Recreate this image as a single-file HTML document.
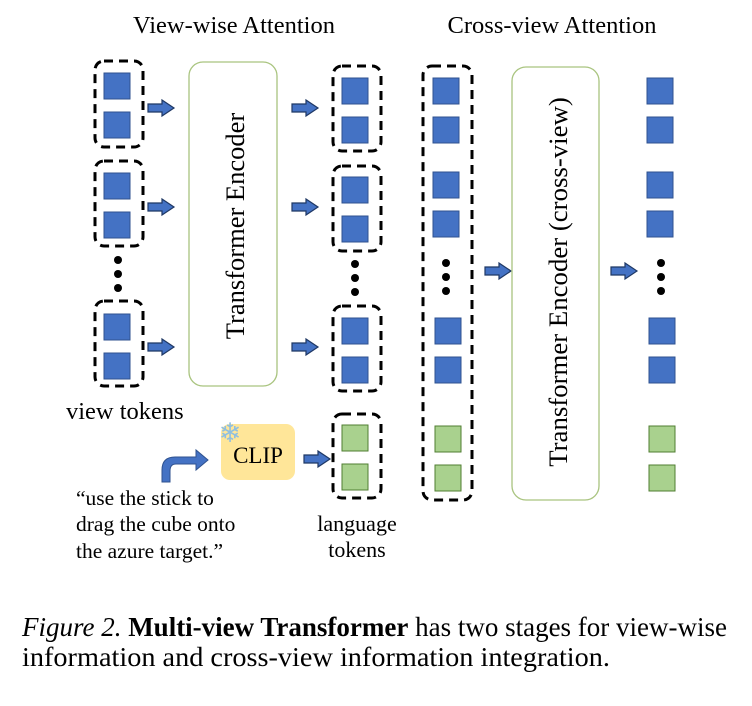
<!DOCTYPE html>
<html><head><style>
body{margin:0;background:#fff;}
svg text{font-family:"Liberation Serif",serif;fill:#000;}
</style></head><body>
<svg width="752" height="701" viewBox="0 0 752 701" xmlns="http://www.w3.org/2000/svg">
<defs>
<g id="arr"><path d="M0,-4 L14,-4 L14,-8 L26,0 L14,8 L14,4 L0,4 Z" fill="#4472c4" stroke="#1f3864" stroke-width="1.2"/></g>
<g id="bs"><rect width="26" height="26" fill="#4472c4" stroke="#2f528f" stroke-width="1"/></g>
<g id="gs"><rect width="26" height="26" fill="#a9d18e" stroke="#507e32" stroke-width="1"/></g>
</defs>
<text x="234" y="33" font-size="24.5" text-anchor="middle">View-wise Attention</text>
<text x="552" y="33" font-size="24.5" text-anchor="middle">Cross-view Attention</text>
<g fill="none" stroke="#000" stroke-width="3" stroke-dasharray="9,6">
<rect x="95" y="61" width="48" height="86" rx="9"/>
<rect x="95" y="161" width="48" height="85" rx="9"/>
<rect x="95" y="301" width="48" height="85" rx="9"/>
<rect x="333" y="66" width="48" height="85" rx="9"/>
<rect x="333" y="166" width="48" height="85" rx="9"/>
<rect x="333" y="306" width="48" height="85" rx="9"/>
<rect x="333" y="414" width="48" height="84" rx="9"/>
<rect x="423" y="66" width="49" height="434" rx="9"/>
</g>
<use href="#bs" x="104" y="73"/><use href="#bs" x="104" y="112"/>
<use href="#bs" x="104" y="173"/><use href="#bs" x="104" y="212"/>
<use href="#bs" x="104" y="314"/><use href="#bs" x="104" y="353"/>
<use href="#bs" x="342" y="78"/><use href="#bs" x="342" y="117"/>
<use href="#bs" x="342" y="177"/><use href="#bs" x="342" y="216"/>
<use href="#bs" x="342" y="318"/><use href="#bs" x="342" y="357"/>
<use href="#gs" x="342" y="425"/><use href="#gs" x="342" y="464"/>
<use href="#bs" x="433" y="78"/><use href="#bs" x="433" y="117"/>
<use href="#bs" x="433" y="172"/><use href="#bs" x="433" y="211"/>
<use href="#bs" x="435" y="318"/><use href="#bs" x="435" y="357"/>
<use href="#gs" x="435" y="426"/><use href="#gs" x="435" y="465"/>
<use href="#bs" x="647" y="78"/><use href="#bs" x="647" y="117"/>
<use href="#bs" x="647" y="172"/><use href="#bs" x="647" y="211"/>
<use href="#bs" x="649" y="318"/><use href="#bs" x="649" y="357"/>
<use href="#gs" x="649" y="426"/><use href="#gs" x="649" y="465"/>
<g fill="#000">
<circle cx="118" cy="260" r="4"/><circle cx="118" cy="274" r="4"/><circle cx="118" cy="288" r="4"/>
<circle cx="355" cy="264" r="4"/><circle cx="355" cy="278" r="4"/><circle cx="355" cy="292" r="4"/>
<circle cx="446" cy="263" r="4"/><circle cx="446" cy="277" r="4"/><circle cx="446" cy="291" r="4"/>
<circle cx="661" cy="263" r="4"/><circle cx="661" cy="277" r="4"/><circle cx="661" cy="291" r="4"/>
</g>
<use href="#arr" x="148" y="108"/><use href="#arr" x="148" y="207"/><use href="#arr" x="148" y="347"/>
<use href="#arr" x="292" y="108"/><use href="#arr" x="292" y="207"/><use href="#arr" x="292" y="347"/>
<use href="#arr" x="485" y="271"/><use href="#arr" x="611" y="271"/>
<use href="#arr" x="304" y="459"/>
<rect x="189" y="62" width="88" height="324" rx="14" fill="#fff" stroke="#a9c47f" stroke-width="1.3"/>
<text transform="translate(244,226) rotate(-90)" font-size="26.5" text-anchor="middle">Transformer Encoder</text>
<rect x="512" y="67" width="87" height="433" rx="14" fill="#fff" stroke="#a9c47f" stroke-width="1.3"/>
<text transform="translate(567,282) rotate(-90)" font-size="26.8" text-anchor="middle">Transformer Encoder (cross-view)</text>
<rect x="221" y="424" width="74" height="56" rx="9" fill="#ffe699"/>
<text x="258" y="463" font-size="23" text-anchor="middle">CLIP</text>
<text x="230" y="442" font-size="27" text-anchor="middle" style="fill:#8fbfe0">❄</text>
<path d="M162,482 L162,470 Q162,457 175,457 L196,457 L196,450 L208,460 L196,470 L196,464 L176,464 Q170,464 170,471 L170,482 Z" fill="#4472c4" stroke="#2f528f" stroke-width="1"/>
<text x="66" y="419" font-size="24.5">view tokens</text>
<text x="76" y="505" font-size="21.5">“use the stick to</text>
<text x="76" y="531" font-size="21.5">drag the cube onto</text>
<text x="76" y="558" font-size="21.5">the azure target.”</text>
<text x="357" y="531" font-size="22" text-anchor="middle">language</text>
<text x="357" y="557" font-size="22" text-anchor="middle">tokens</text>
<text x="22" y="636" font-size="27" textLength="705" lengthAdjust="spacingAndGlyphs"><tspan font-style="italic">Figure 2.</tspan> <tspan font-weight="bold">Multi-view Transformer</tspan> has two stages for view-wise</text>
<text x="22" y="666" font-size="27" textLength="588" lengthAdjust="spacingAndGlyphs">information and cross-view information integration.</text>
</svg>
</body></html>
